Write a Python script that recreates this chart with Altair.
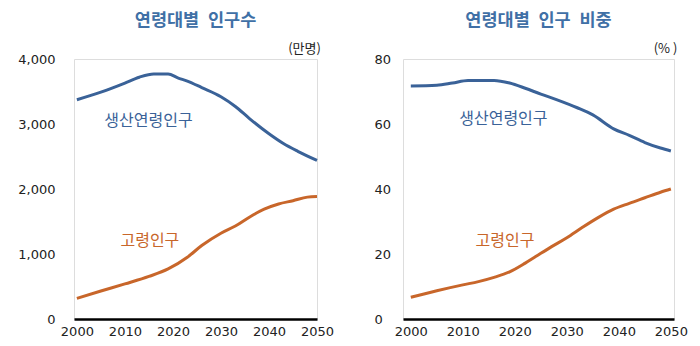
import altair as alt
import pandas as pd

# ---- data ----
# Left panel: population (만명)
work_years_l = [2000, 2005, 2010, 2013, 2016, 2019, 2021, 2023, 2026, 2030, 2033, 2036, 2040, 2043, 2046, 2050]
work_vals_l = [3374, 3490, 3630, 3720, 3770, 3770, 3710, 3660, 3560, 3420, 3270, 3080, 2850, 2700, 2580, 2440]
old_years_l = [2000, 2005, 2010, 2015, 2019, 2023, 2026, 2030, 2033, 2036, 2039, 2042, 2045, 2048, 2050]
old_vals_l = [318, 430, 540, 655, 770, 950, 1130, 1320, 1430, 1570, 1690, 1770, 1820, 1875, 1885]

# Right panel: share (%)
work_years_r = [2000, 2005, 2008, 2011, 2016, 2019, 2022, 2025, 2028, 2032, 2035, 2039, 2042, 2045, 2048, 2050]
work_vals_r = [71.7, 71.9, 72.6, 73.4, 73.4, 72.6, 71.0, 69.2, 67.5, 65.0, 62.8, 58.5, 56.5, 54.3, 52.6, 51.7]
old_years_r = [2000, 2005, 2010, 2013, 2016, 2019, 2022, 2024, 2027, 2030, 2033, 2036, 2039, 2042, 2045, 2048, 2050]
old_vals_r = [6.7, 8.7, 10.5, 11.5, 12.8, 14.5, 17.2, 19.2, 22.2, 25.0, 28.2, 31.2, 33.8, 35.6, 37.3, 39.0, 40.0]

series_names = ["생산연령인구", "고령인구"]
x_ticks = [2000, 2010, 2020, 2030, 2040, 2050]
y_ticks_l = [0, 1000, 2000, 3000, 4000]
y_ticks_r = [0, 20, 40, 60, 80]

# label anchor positions (data coords)
label_pos_l = [(2014.9, 3040), (2015.2, 1200)]
label_pos_r = [(2017.8, 61.4), (2018.1, 24.0)]

BLUE = "#3a6298"
ORANGE = "#c8662a"
BLUE_TXT = "#4a72a8"
ORANGE_TXT = "#c87545"
TITLE_BLUE = "#4070a6"

def frame(years_a, vals_a, years_b, vals_b):
    rows = []
    for y, v in zip(years_a, vals_a):
        rows.append({"year": y, "value": v, "series": series_names[0]})
    for y, v in zip(years_b, vals_b):
        rows.append({"year": y, "value": v, "series": series_names[1]})
    return pd.DataFrame(rows)

df_l = frame(work_years_l, work_vals_l, old_years_l, old_vals_l)
df_r = frame(work_years_r, work_vals_r, old_years_r, old_vals_r)
lab_l = pd.DataFrame({"year": [p[0] for p in label_pos_l], "value": [p[1] for p in label_pos_l], "series": series_names})
lab_r = pd.DataFrame({"year": [p[0] for p in label_pos_r], "value": [p[1] for p in label_pos_r], "series": series_names})

color_scale = alt.Scale(domain=series_names, range=[BLUE, ORANGE])
text_scale = alt.Scale(domain=series_names, range=[BLUE_TXT, ORANGE_TXT])


def panel(df, lab, xdomain, width, ydomain, yticks, yfmt, unit, unit_x, title, label_align, label_pad):
    x = alt.X("year:Q", scale=alt.Scale(domain=xdomain, nice=False, zero=False),
              axis=alt.Axis(values=x_ticks, format="d", title=None, ticks=False, grid=False,
                            domainColor="black", domainWidth=2.5, labelPadding=6,
                            labelOverlap=False, labelBound=False, labelFlush=False,
                            labelFontSize=13, labelFont="DejaVu Sans", labelColor="#222222"))
    y = alt.Y("value:Q", scale=alt.Scale(domain=ydomain, nice=False),
              axis=alt.Axis(values=yticks, format=yfmt, title=unit, titleAngle=0,
                            titleX=unit_x, titleY=-11, titleAlign="center", titleBaseline="middle",
                            titleFont="Noto Sans CJK KR", titleFontWeight="normal", titleFontSize=13,
                            titleColor="#222222", labelOverlap=False,
                            ticks=False, grid=False, domain=False, labelAlign=label_align,
                            labelPadding=label_pad, labelFontSize=13, labelFont="DejaVu Sans",
                            labelColor="#222222"))
    lines = alt.Chart(df).mark_line(strokeWidth=3, interpolate="monotone").encode(
        x=x, y=y,
        color=alt.Color("series:N", scale=color_scale, legend=None),
        detail="series:N",
    )
    texts = alt.Chart(lab).mark_text(fontSize=16, font="Noto Sans CJK KR", align="center",
                                     baseline="middle").encode(
        x="year:Q", y="value:Q",
        text="series:N",
        color=alt.Color("series:N", scale=text_scale, legend=None),
    )
    return alt.layer(lines, texts).properties(
        width=width, height=260,
        title=alt.TitleParams(title, fontSize=17.5, fontWeight="bold", font="Noto Sans CJK KR",
                              color=TITLE_BLUE, anchor="middle", frame="group",
                              baseline="middle", offset=4),
    )

left = panel(df_l, lab_l, [1999.4, 2050], 243, [0, 4000], y_ticks_l, ",d", "(만명)", 230,
             "연령대별\u2002인구수", "right", 19)
right = panel(df_r, lab_r, [1998.5, 2050.6], 271, [0, 80], y_ticks_r, "d", "(% )", 262,
              "연령대별\u2002인구\u2002비중", "left", 29)

chart = alt.hconcat(left, right, spacing=86, bounds="flush").properties(
    padding={"left": 17, "top": 11, "right": 5, "bottom": 5},
).configure_view(stroke=None).configure(background="white")

chart.save("out.html", embed_options={"renderer": "svg", "actions": False})
